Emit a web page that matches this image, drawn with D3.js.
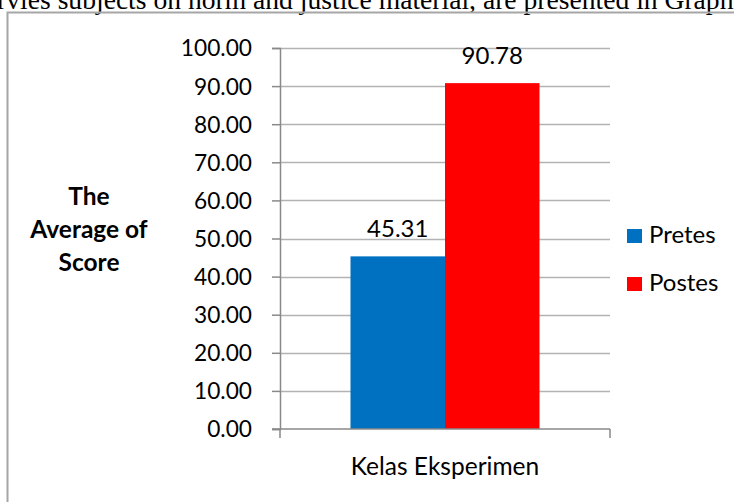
<!DOCTYPE html>
<html>
<head>
<meta charset="utf-8">
<script src="https://cdn.jsdelivr.net/npm/d3@7"></script>
<style>
  body { margin: 0; background: #fff; }
  svg { display: block; }
  .tick text { font-family: Lato, "Open Sans", sans-serif; fill: #000; }
</style>
</head>
<body>
<svg width="734" height="502"></svg>
<script>
// values
const categories = ["Kelas Eksperimen"];
const seriesNames = ["Pretes", "Postes"];
const pretes = [45.31];
const postes = [90.78];
const seriesColors = ["#0070c0", "#ff0000"];
const yTickValues = [0, 10, 20, 30, 40, 50, 60, 70, 80, 90, 100];
const yTitle = ["The", "Average of", "Score"];
const caption = "Pervies subjects on norm and justice material, are presented in Graphic 1";

const svg = d3.select("svg"),
    width = +svg.attr("width"),
    height = +svg.attr("height");

const font = "Lato, 'Open Sans', sans-serif";

// clipped line of the document above the chart
svg.append("text")
    .attr("x", -30.5)
    .attr("y", 9)
    .attr("font-family", "'Liberation Serif', 'Times New Roman', serif")
    .attr("font-size", 27.6)
    .text(caption);

// chart frame (only top and left edges are in view)
svg.append("path")
    .attr("d", `M7.5,${height} V12.5 H${width}`)
    .attr("fill", "none")
    .attr("stroke", "#a6a6a6")
    .attr("stroke-width", 2);

const plot = { left: 280, right: 610, top: 48, bottom: 429 };

const y = d3.scaleLinear()
    .domain([0, 100])
    .range([plot.bottom, plot.top]);

const x0 = d3.scaleBand()
    .domain(categories)
    .range([plot.left, plot.right])
    .paddingInner(0)
    .paddingOuter(0.373);

const x1 = d3.scaleBand()
    .domain(seriesNames)
    .range([0, x0.bandwidth()])
    .padding(0);

const color = d3.scaleOrdinal()
    .domain(seriesNames)
    .range(seriesColors);

// gridlines
svg.append("g")
    .selectAll("line")
    .data(yTickValues.filter(d => d > 0))
    .join("line")
    .attr("x1", plot.left)
    .attr("x2", plot.right)
    .attr("y1", d => Math.round(y(d)) + 0.5)
    .attr("y2", d => Math.round(y(d)) + 0.5)
    .attr("stroke", "#b3b3b3")
    .attr("stroke-width", 1.5);

// y axis
const yAxis = d3.axisLeft(y)
    .tickValues(yTickValues)
    .tickFormat(d3.format(".2f"))
    .tickSize(8)
    .tickPadding(20);

const gY = svg.append("g")
    .attr("transform", `translate(${plot.left},0)`)
    .call(yAxis);
gY.select(".domain").attr("stroke", "#898989").attr("stroke-width", 1.5);
gY.selectAll(".tick line").attr("stroke", "#898989").attr("stroke-width", 1.5);
gY.selectAll(".tick text").attr("dy", "0.35em").attr("font-size", 22.7);

// bars
const rows = categories.map((c, i) => ({ category: c, values: [pretes[i], postes[i]] }));

const groups = svg.append("g")
    .selectAll("g")
    .data(rows)
    .join("g")
    .attr("transform", d => `translate(${x0(d.category)},0)`);

groups.selectAll("rect")
    .data(d => d.values.map((v, j) => ({ key: seriesNames[j], value: v })))
    .join("rect")
    .attr("x", d => x1(d.key))
    .attr("y", d => y(d.value))
    .attr("width", x1.bandwidth())
    .attr("height", d => y(0) - y(d.value))
    .attr("fill", d => color(d.key));

groups.selectAll("text")
    .data(d => d.values.map((v, j) => ({ key: seriesNames[j], value: v })))
    .join("text")
    .attr("x", d => x1(d.key) + x1.bandwidth() / 2)
    .attr("y", d => y(d.value) - 19)
    .attr("text-anchor", "middle")
    .attr("font-family", font)
    .attr("font-size", 24)
    .text(d => d3.format(".2f")(d.value));

// x axis
const xAxis = d3.axisBottom(x0).tickSize(0).tickPadding(29);
const gX = svg.append("g")
    .attr("transform", `translate(0,${plot.bottom})`)
    .call(xAxis);
gX.select(".domain").remove();
gX.append("line")
    .attr("x1", plot.left - 8).attr("x2", plot.right)
    .attr("stroke", "#898989").attr("stroke-width", 1.5);
gX.selectAll(".edge")
    .data([plot.left, plot.right])
    .join("line")
    .attr("class", "edge")
    .attr("x1", d => d).attr("x2", d => d)
    .attr("y1", 0).attr("y2", 9)
    .attr("stroke", "#898989").attr("stroke-width", 1.5);
gX.selectAll(".tick text").attr("dy", "0.71em").attr("font-size", 24.5);

// y axis title
svg.append("text")
    .attr("font-family", font)
    .attr("font-size", 24.5)
    .attr("font-weight", "bold")
    .attr("text-anchor", "middle")
    .selectAll("tspan")
    .data(yTitle)
    .join("tspan")
    .attr("x", 89)
    .attr("y", (d, i) => 205 + i * 33)
    .text(d => d);

// legend
const legend = svg.append("g")
    .selectAll("g")
    .data(seriesNames)
    .join("g")
    .attr("transform", (d, i) => `translate(627,${229 + i * 48})`);

legend.append("rect")
    .attr("width", 15)
    .attr("height", 14)
    .attr("fill", d => color(d));

legend.append("text")
    .attr("x", 22)
    .attr("y", 14)
    .attr("font-family", font)
    .attr("font-size", 24)
    .text(d => d);
</script>
</body>
</html>
